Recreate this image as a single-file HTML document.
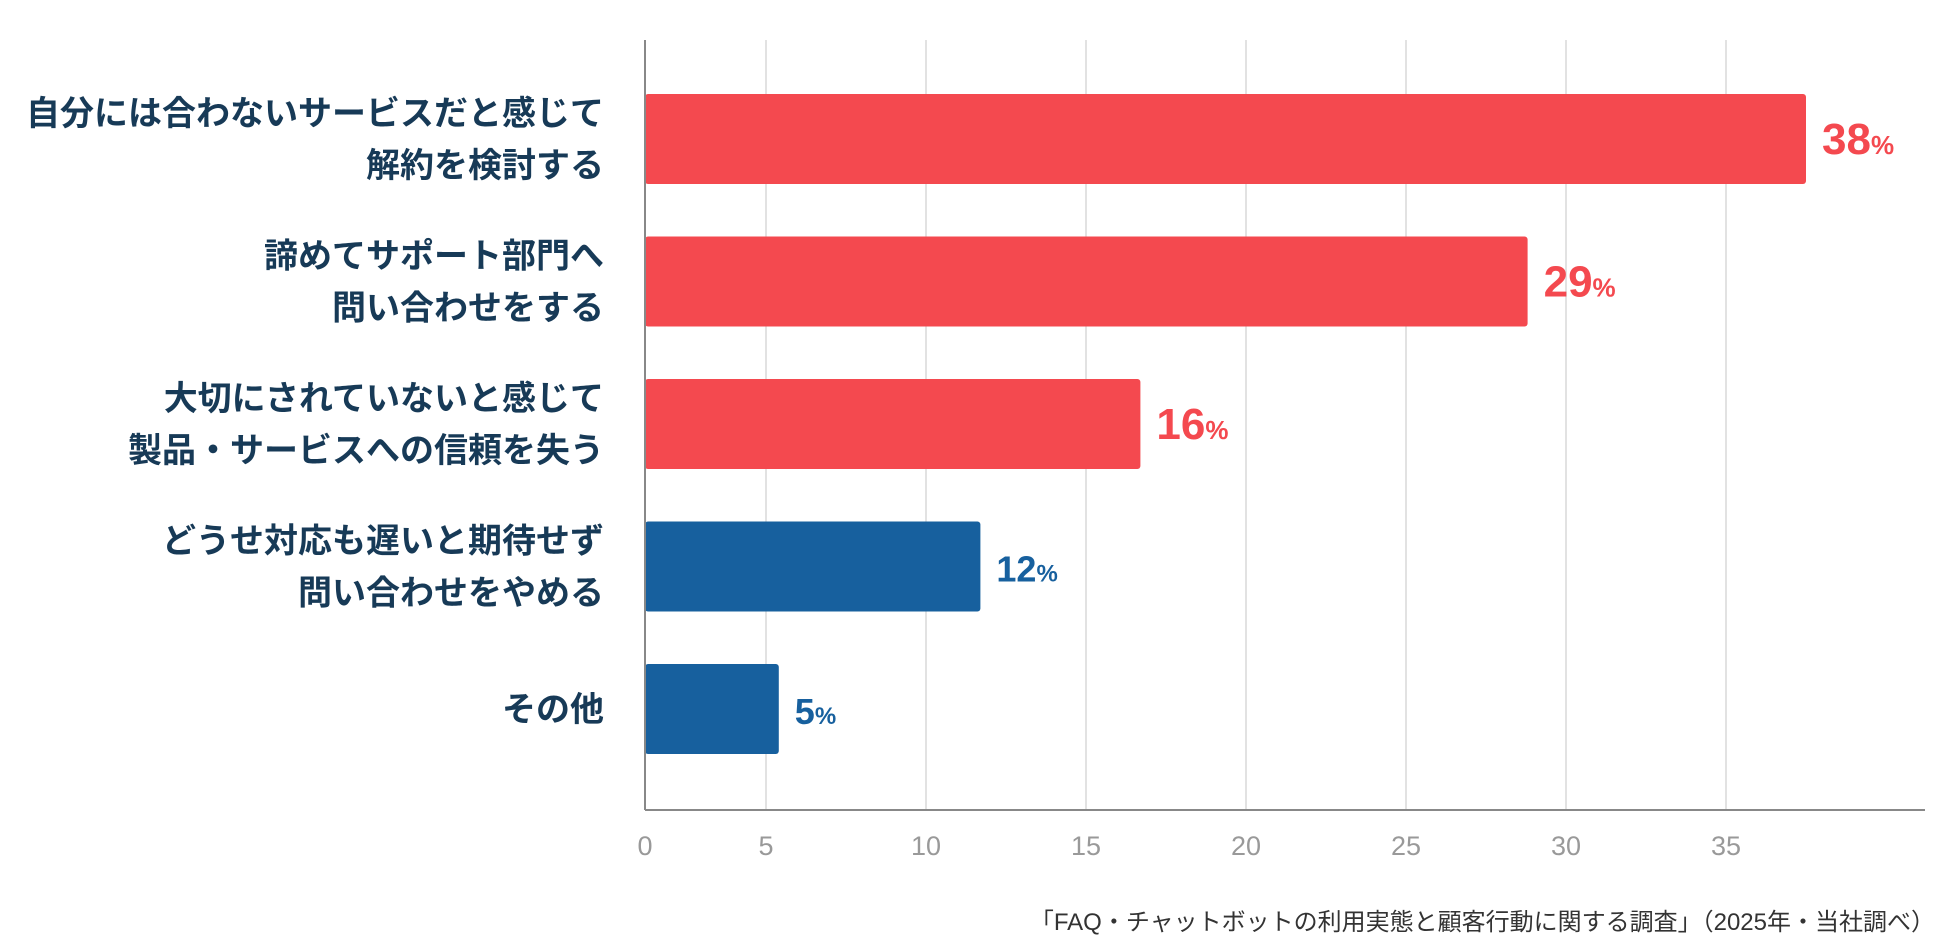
<!DOCTYPE html>
<html><head><meta charset="utf-8"><style>
body{margin:0;background:#fff;}
svg text{font-family:"Liberation Sans","Noto Sans CJK JP",sans-serif;}
</style></head><body>
<svg id="chart" width="1960" height="944" viewBox="0 0 1960 944" xmlns="http://www.w3.org/2000/svg">
<g id="grid"></g><g id="bars"></g><g id="labels"></g>
<line x1="645" y1="40" x2="645" y2="810" stroke="#888" stroke-width="2"/>
<line x1="645" y1="810" x2="1925" y2="810" stroke="#888" stroke-width="2"/>
<text x="1935" y="930" text-anchor="end" font-size="24" fill="#333">「FAQ・チャットボットの利用実態と顧客行動に関する調査」（2025年・当社調べ）</text>
</svg>
<script>
const categories=[["自分には合わないサービスだと感じて","解約を検討する"],["諦めてサポート部門へ","問い合わせをする"],["大切にされていないと感じて","製品・サービスへの信頼を失う"],["どうせ対応も遅いと期待せず","問い合わせをやめる"],["その他"]];
const values=[37.5,28.8,16.7,11.7,5.4];
const valueLabels=["38","29","16","12","5"];
const highlight=[true,true,true,false,false];
const ticks=[0,5,10,15,20,25,30,35];
const NS="http://www.w3.org/2000/svg";
const axisX=645;
function x(v){return Math.max(axisX,606+32*v);}
function bandY(i){return 94+i*142.5;}
const barH=90;
function mk(tag,attrs,parent){const e=document.createElementNS(NS,tag);for(const k in attrs)e.setAttribute(k,attrs[k]);parent.appendChild(e);return e;}
const grid=document.getElementById('grid'),bars=document.getElementById('bars'),labels=document.getElementById('labels');
ticks.forEach(t=>{
  if(t>0){const l=mk('line',{x1:x(t),x2:x(t),y1:40,y2:810,stroke:'#e2e2e2','stroke-width':2},grid);
  
  }
  const tx=mk('text',{x:x(t),y:855,'text-anchor':'middle','font-size':27,fill:'#999'},grid);
  
  
  tx.textContent=t;
});
values.forEach((v,i)=>{
  const col=highlight[i]?'#f4494f':'#17609e';
  const y=bandY(i);
  const r=mk('rect',{x:axisX,y:y,width:x(v)-axisX,height:barH,rx:3,fill:col},bars);
  
  
  const vt=mk('text',{x:x(v)+16,y:y+barH/2+15,'font-size':highlight[i]?44:36,'font-weight':'bold',fill:col},labels);
  
  
  vt.textContent=valueLabels[i];
  const ps=mk('tspan',{'font-size':highlight[i]?26:24},vt);ps.textContent='%';
  const lines=categories[i];
  const c=y+barH/2;
  lines.forEach((s,j)=>{
    const ly=c+(j-(lines.length-1)/2)*52+12;
    const t=mk('text',{x:604,y:ly,'text-anchor':'end','font-size':34,'font-weight':'bold',fill:'#173a57'},labels);
    
    
    t.textContent=s;
  });
});
</script>
</body></html>
